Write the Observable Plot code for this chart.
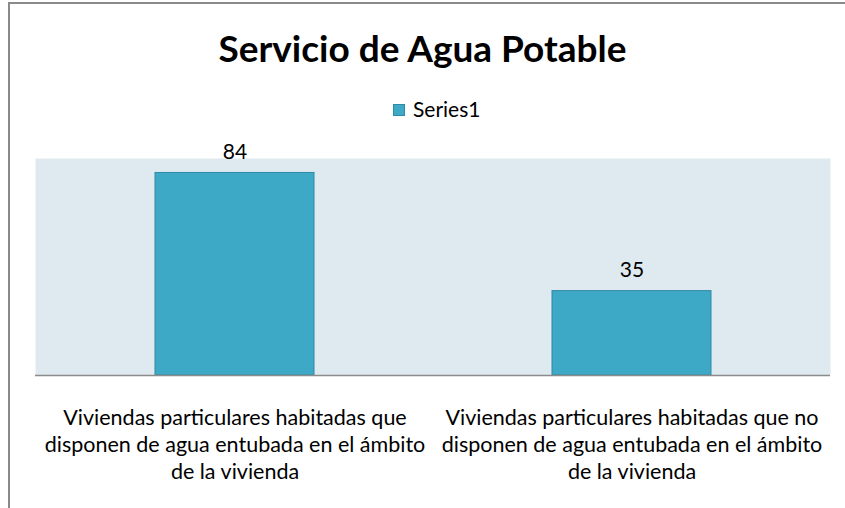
<!DOCTYPE html>
<html>
<head>
<meta charset="utf-8">
<script src="https://cdn.jsdelivr.net/npm/d3@7"></script>
<script src="https://cdn.jsdelivr.net/npm/@observablehq/plot@0.6"></script>
<style>
  html, body { margin: 0; padding: 0; background: #fff; }
  #wrap { position: relative; width: 845px; height: 508px; overflow: hidden; font-family: Lato, "Open Sans", sans-serif; color: #000; }
  #bl { position: absolute; left: 8px; top: 2px; width: 2px; height: 506px; background: #8a8a8a; }
  #bt { position: absolute; left: 8px; top: 2px; width: 837px; height: 2px; background: #8a8a8a; }
  #title { position: absolute; left: 0; top: 25px; width: 845px; text-align: center; font-weight: 700; font-size: 37px; line-height: normal; }
  #legend { position: absolute; left: 393px; top: 96px; font-size: 21px; line-height: normal; display: flex; align-items: center; }
  #legend .sw { display: inline-block; width: 10px; height: 10px; background: #3da9c7; border: 1px solid #2f8aa5; margin-right: 8px; margin-top: 2px; }
  #chart { position: absolute; left: 0; top: 130px; }
</style>
</head>
<body>
<div id="wrap">
  <div id="bl"></div>
  <div id="bt"></div>
  <div id="title">Servicio de Agua Potable</div>
  <div id="legend"><span class="sw"></span><span id="legendText"></span></div>
  <div id="chart"></div>
</div>
<script>
const categories = [
  "Viviendas particulares habitadas que disponen de agua entubada en el ámbito de la vivienda",
  "Viviendas particulares habitadas que no disponen de agua entubada en el ámbito de la vivienda"
];
const tickLabels = [
  "Viviendas particulares habitadas que\ndisponen de agua entubada en el ámbito\nde la vivienda",
  "Viviendas particulares habitadas que no\ndisponen de agua entubada en el ámbito\nde la vivienda"
];
const seriesName = "Series1";
const values = [84, 35];

document.getElementById("legendText").textContent = seriesName;

const data = categories.map((c, i) => ({category: c, label: tickLabels[i], value: values[i]}));

const chart = Plot.plot({
  width: 845,
  height: 378,
  marginLeft: 35,
  marginRight: 15,
  marginTop: 28,
  marginBottom: 133,
  style: {fontFamily: "Lato, 'Open Sans', sans-serif", background: "transparent", color: "#000"},
  x: {domain: categories, paddingInner: 0.6, paddingOuter: 0.3, axis: null},
  y: {domain: [0, 90], axis: null},
  marks: [
    Plot.frame({fill: "#dfeaf0", stroke: null}),
    Plot.barY(data, {x: "category", y: "value", fill: "#3da9c7", stroke: "#2f8aa5", strokeWidth: 1}),
    Plot.ruleY([0], {stroke: "#8c8c8c", strokeWidth: 1.5}),
    Plot.text(data, {x: "category", y: "value", text: d => String(d.value), dy: -14, lineAnchor: "bottom", fontSize: 21, fill: "#000"}),
    Plot.text(data, {x: "category", y: () => 0, text: "label", dy: 30, lineAnchor: "top", lineHeight: 1.256, fontSize: 21.5, fill: "#000"})
  ]
});
document.getElementById("chart").appendChild(chart);
</script>
</body>
</html>
